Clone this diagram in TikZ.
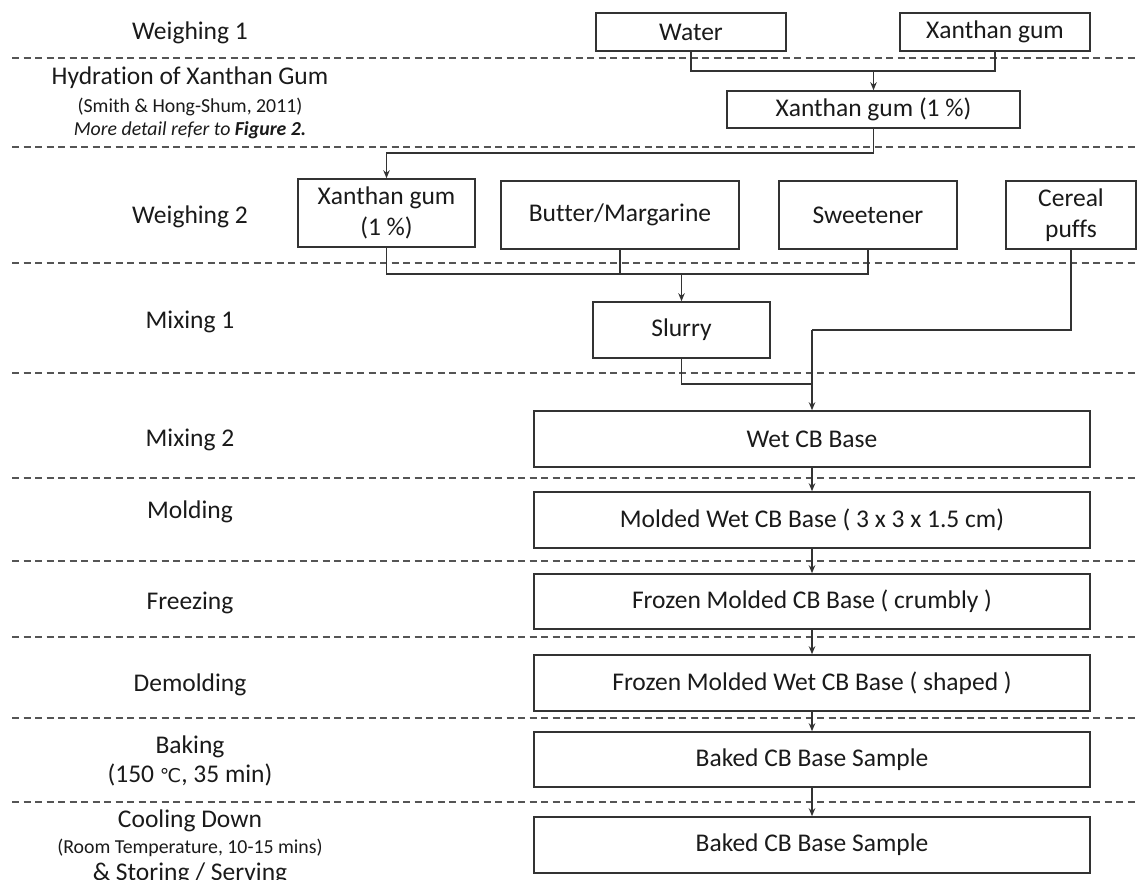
\documentclass[tikz,border=0pt]{standalone}
\usepackage{fontspec}
\setmainfont{Carlito}[Ligatures=NoCommon]
\newfontfamily\symfont{DejaVu Sans}
\usetikzlibrary{arrows.meta}
\definecolor{ink}{HTML}{1A1A1A}
\definecolor{edge}{HTML}{333333}
\definecolor{dash}{HTML}{555555}
\newcommand{\bigtxt}{\fontsize{25.5}{31.5}\selectfont}
\newcommand{\smalltxt}{\fontsize{19.8}{23}\selectfont}
\tikzset{
  box/.style={draw=edge, line width=1.6pt, text=ink, inner sep=0pt, align=center, font=\bigtxt},
  lbl/.style={text=ink, inner sep=0pt, align=center, font=\bigtxt},
  slbl/.style={text=ink, inner sep=0pt, align=center, font=\smalltxt},
  sep/.style={draw=dash, line width=1.3pt, dash pattern=on 7pt off 4.5pt},
  link/.style={draw=edge, line width=1.5pt},
  arr/.style={link, -{Stealth[length=8pt,width=6.5pt]}}
}
\begin{document}
\begin{tikzpicture}[x=1pt,y=-1pt]
\useasboundingbox[fill=white] (0,0) rectangle (1137,879);
% separators
\foreach \yy in {58,147,263,373,478,561,637,718,802}{
  \path[sep] (12,\yy) -- (1137,\yy);
}
% stage labels
\node[lbl] (l1) at (190,33) {Weighing 1};
\node[lbl] (l2) at (190,78) {Hydration of Xanthan Gum};
\node[slbl] (l2a) at (190,107) {(Smith \& Hong-Shum, 2011)};
\node[slbl] (l2b) at (190,130) {\itshape More detail refer to \textbf{Figure 2.}};
\node[lbl] (l3) at (190,217) {Weighing 2};
\node[lbl] (l4) at (190,322) {Mixing 1};
\node[lbl] (l5) at (190,440) {Mixing 2};
\node[lbl] (l6) at (190,512) {Molding};
\node[lbl] (l7) at (190,603) {Freezing};
\node[lbl] (l8) at (190,685) {Demolding};
\node[lbl] (l9) at (190,747) {Baking};
\node[lbl] (l9a) at (190,775) {(150 {\symfont\fontsize{19}{22}\selectfont ℃}, 35 min)};
\node[lbl] (l10) at (190,821) {Cooling Down};
\node[slbl] (l10a) at (190,848) {(Room Temperature, 10-15 mins)};
\node[lbl] (l10b) at (190,874) {\& Storing / Serving};
% boxes
\node[box, minimum width=190pt, minimum height=38pt] (water) at (691,32) {Water};
\node[box, minimum width=190pt, minimum height=38pt] (xgum) at (995,32) {Xanthan gum};
\node[box, minimum width=293pt, minimum height=37pt] (xg1) at (873.5,109.5) {Xanthan gum (1 \%)};
\node[box, minimum width=177pt, minimum height=68pt] (xg2) at (386.5,213) {Xanthan gum\\(1 \%)};
\node[box, minimum width=238pt, minimum height=68pt] (butter) at (620,215) {Butter/Margarine};
\node[box, minimum width=178pt, minimum height=68pt] (sweet) at (868,215) {Sweetener};
\node[box, minimum width=130pt, minimum height=68pt] (cereal) at (1071,215) {Cereal\\puffs};
\node[box, minimum width=177pt, minimum height=56pt] (slurry) at (681.5,330) {Slurry};
\node[box, minimum width=556pt, minimum height=56pt] (wet) at (812,439) {Wet CB Base};
\node[box, minimum width=556pt, minimum height=56pt] (molded) at (812,520) {Molded Wet CB Base ( 3 x 3 x 1.5 cm)};
\node[box, minimum width=556pt, minimum height=55pt] (frozen1) at (812,601.5) {Frozen Molded CB Base ( crumbly )};
\node[box, minimum width=556pt, minimum height=56pt] (frozen2) at (812,683) {Frozen Molded Wet CB Base ( shaped )};
\node[box, minimum width=556pt, minimum height=55pt] (baked1) at (812,759.5) {Baked CB Base Sample};
\node[box, minimum width=556pt, minimum height=56pt] (baked2) at (812,845) {Baked CB Base Sample};
% junctions
\coordinate (j1) at (873.5,71);
\coordinate (j2) at (873.5,153);
\coordinate (j3) at (681.5,274);
\coordinate (j4) at (812,330);
\coordinate (j5) at (812,384);
% connectors
\draw[link] (water.south) |- (j1) -| (xgum.south);
\draw[arr] (j1) -- (xg1.north);
\draw[arr] (xg1.south) -- (j2) -| (xg2.north);
\draw[link] (xg2.south) |- (j3);
\draw[link] (butter.south) |- (j3);
\draw[link] (sweet.south) |- (j3);
\draw[arr] (j3) -- (slurry.north);
\draw[link] (cereal.south) |- (j4);
\draw[arr] (j4) -- (wet.north);
\draw[link] (slurry.south) |- (j5);
\draw[arr] (wet.south) -- (molded.north);
\draw[arr] (molded.south) -- (frozen1.north);
\draw[arr] (frozen1.south) -- (frozen2.north);
\draw[arr] (frozen2.south) -- (baked1.north);
\draw[arr] (baked1.south) -- (baked2.north);
\end{tikzpicture}
\end{document}
